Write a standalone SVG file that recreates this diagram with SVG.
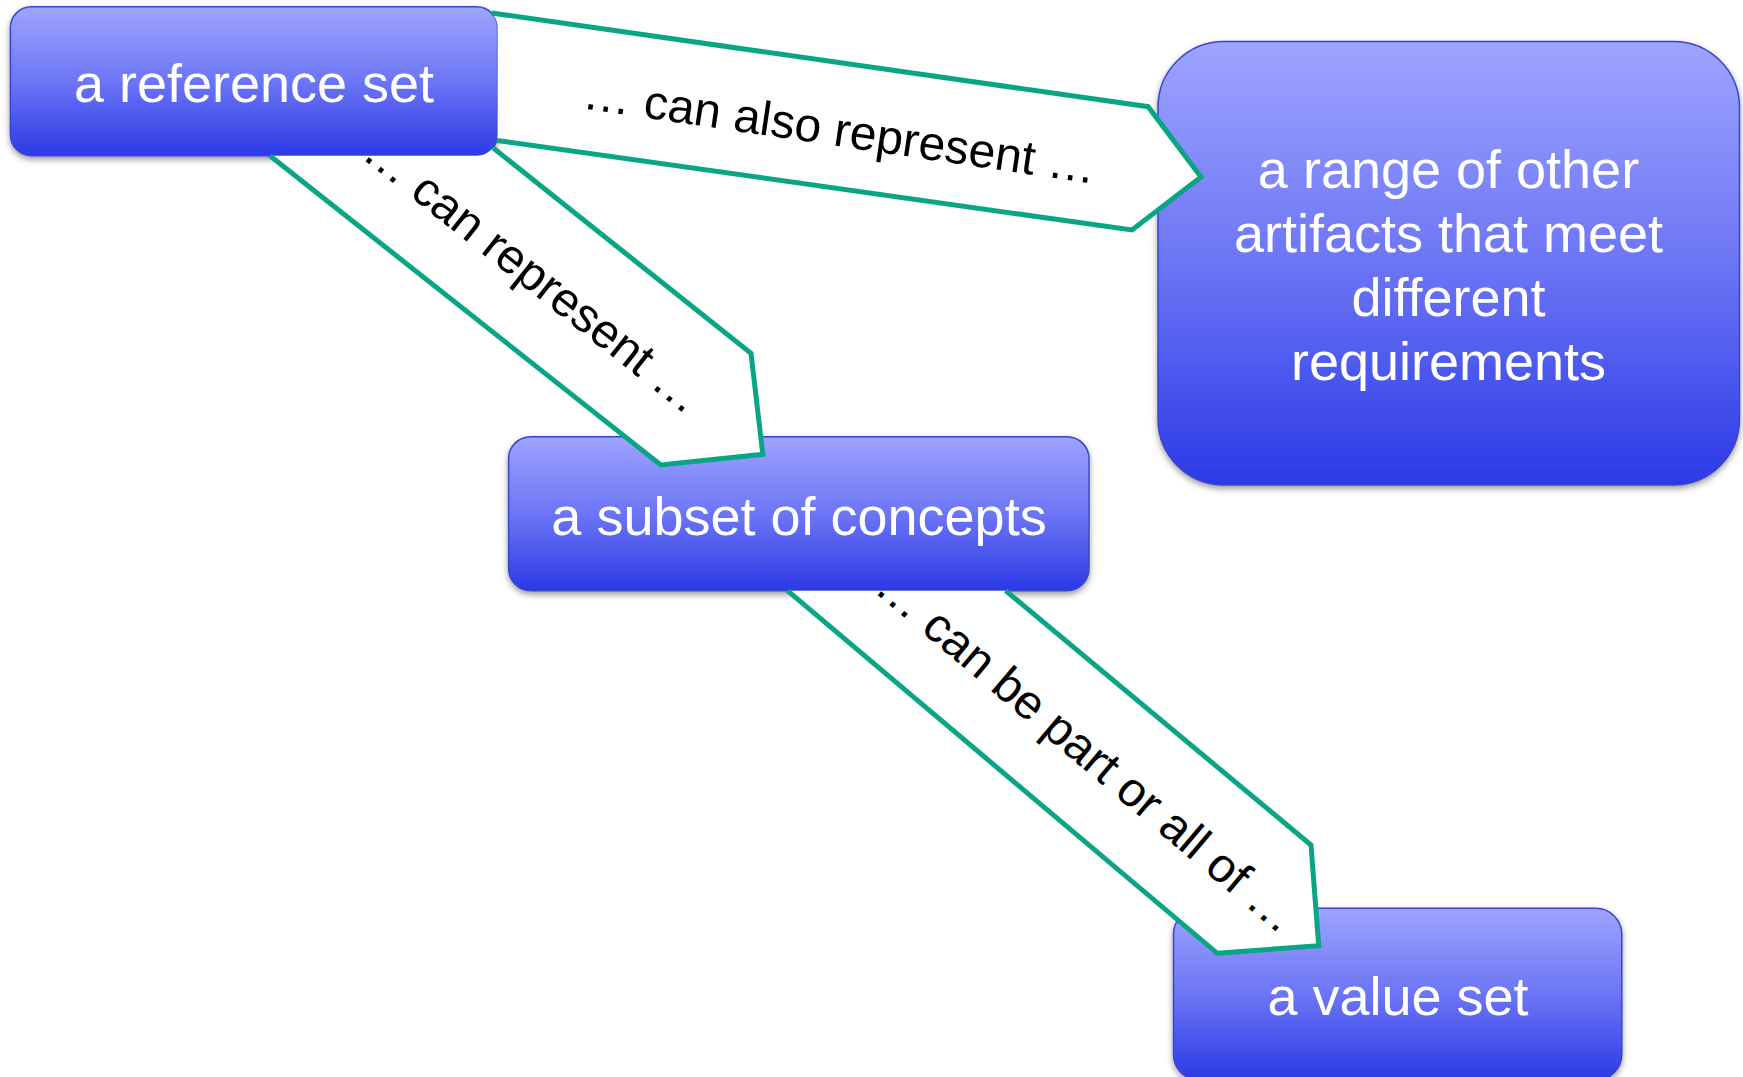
<svg xmlns="http://www.w3.org/2000/svg" width="1743" height="1077" viewBox="0 0 1743 1077">
  <defs>
    <linearGradient id="nodeGrad" x1="0" y1="0" x2="0" y2="1">
      <stop offset="0" stop-color="#9EA4FF"/>
      <stop offset="0.5" stop-color="#6C75F5"/>
      <stop offset="1" stop-color="#2B3AE6"/>
    </linearGradient>
    <filter id="shadow" x="-10%" y="-10%" width="120%" height="130%">
      <feDropShadow dx="0" dy="3" stdDeviation="3" flood-color="#000" flood-opacity="0.4"/>
    </filter>
  </defs>
  <style>
    .node rect { fill: url(#nodeGrad); stroke: #3B45CC; stroke-width: 1.5; filter: url(#shadow); }
    .ntext { font-family: "Liberation Sans", Arial, sans-serif; font-size: 54px; fill: #FFFFFF; text-anchor: middle; }
    .afill { fill: #FFFFFF; stroke: none; }
    .aline { fill: none; stroke: #0AA584; stroke-width: 5; stroke-linejoin: miter; }
    .ltext { font-family: "Liberation Sans", Arial, sans-serif; font-size: 48px; fill: #000000; text-anchor: middle; }
  </style>
  <rect width="1743" height="1077" fill="#FFFFFF"/>

  <g id="node-range" class="node">
    <rect x="1158" y="41.5" width="581.5" height="443.5" rx="66" ry="66"/>
    <text class="ntext" x="1448.5" y="188.3">a range of other</text>
    <text class="ntext" x="1448.5" y="251.7">artifacts that meet</text>
    <text class="ntext" x="1448.5" y="315.5">different</text>
    <text class="ntext" x="1448.5" y="379.5">requirements</text>
  </g>

  <g id="node-value" class="node">
    <rect x="1173.5" y="908.3" width="448.3" height="172" rx="26" ry="26"/>
    <text class="ntext" x="1398" y="1015">a value set</text>
  </g>

  <g id="node-subset" class="node">
    <rect x="508.6" y="436.7" width="580.4" height="154" rx="22" ry="22"/>
    <text class="ntext" x="799" y="535">a subset of concepts</text>
  </g>

  <g id="node-reference" class="node">
    <rect x="10.4" y="6.7" width="487.2" height="149" rx="21" ry="21"/>
    <text class="ntext" x="254" y="102.3">a reference set</text>
  </g>

  <g id="connectors">
    <g id="conn-reference-subset">
      <path class="afill" d="M 270,155.7 L 660.8,465 L 762.8,454.3 L 751,353.3 L 493,147.8 A 21 21 0 0 1 476.6,155.7 Z"/>
      <path class="aline" d="M 270,155.7 L 660.8,465 L 762.8,454.3 L 751,353.3 L 493,147.8"/>
      <text class="ltext" transform="translate(523.5,286.5) rotate(38.4)">… can represent …</text>
    </g>
    <g id="conn-reference-range">
      <path class="afill" d="M 491.6,13 L 1148.1,106.7 L 1201,177 L 1132,230 L 496.8,140.4 A 21 21 0 0 0 497.6,134.7 L 497.6,27.7 A 21 21 0 0 0 491.6,13 Z"/>
      <path class="aline" d="M 491.6,13 L 1148.1,106.7 L 1201,177 L 1132,230 L 496.8,140.4"/>
      <text class="ltext" transform="translate(837.5,146) rotate(8.4)">… can also represent …</text>
    </g>
    <g id="conn-subset-value">
      <path class="afill" d="M 787.5,590.7 L 1217.3,953.3 L 1318.7,945.7 L 1311,845 L 1005.6,590.7 Z"/>
      <path class="aline" d="M 787.5,590.7 L 1217.3,953.3 L 1318.7,945.7 L 1311,845 L 1005.6,590.7"/>
      <text class="ltext" transform="translate(1076.6,763.2) rotate(40.2)">… can be part or all of …</text>
    </g>
  </g>
</svg>
